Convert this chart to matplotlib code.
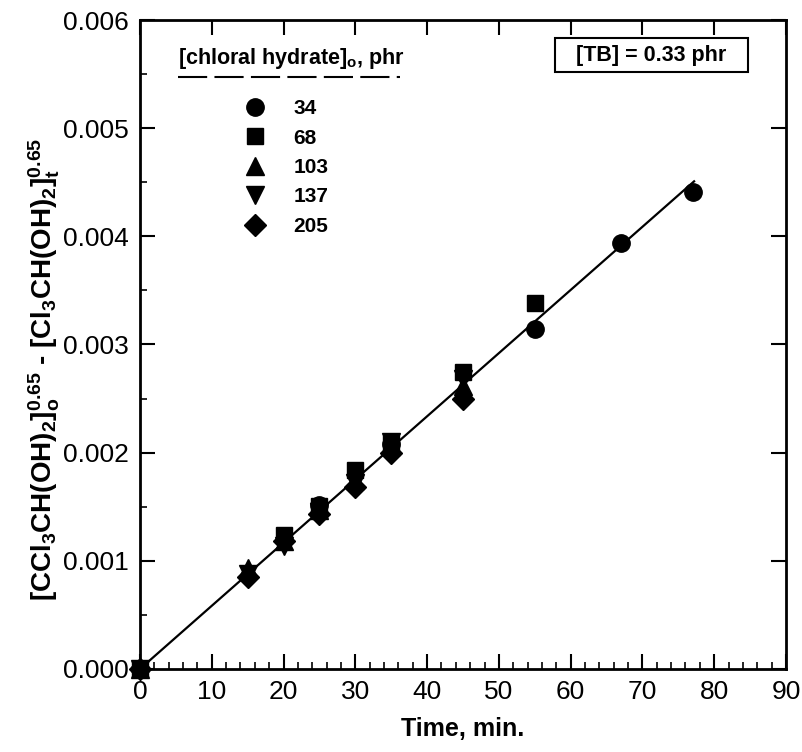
import matplotlib
matplotlib.use('Agg')
import matplotlib.pyplot as plt
from matplotlib.ticker import MultipleLocator, FormatStrFormatter
from matplotlib.patches import Rectangle

plt.rcParams['font.family'] = ['Liberation Sans', 'DejaVu Sans']
plt.rcParams['mathtext.default'] = 'regular'

# data: time (min) vs conversion function
t_34 = [0, 25, 35, 55, 67, 77]
y_34 = [0.0, 0.00152, 0.00208, 0.00314, 0.00394, 0.00441]

t_68 = [0, 20, 25, 30, 35, 45, 55]
y_68 = [0.0, 0.00124, 0.00151, 0.00184, 0.00209, 0.00275, 0.00338]

t_103 = [0, 15, 20, 25, 30, 35, 45]
y_103 = [0.0, 0.00093, 0.00118, 0.00147, 0.00175, 0.00206, 0.00262]

t_137 = [0, 15, 20, 25, 30, 35, 45]
y_137 = [0.0, 0.00088, 0.00114, 0.00145, 0.00172, 0.00210, 0.00268]

t_205 = [0, 15, 20, 25, 30, 35, 45]
y_205 = [0.0, 0.00085, 0.00118, 0.00143, 0.00168, 0.00200, 0.00250]

series_labels = ['34', '68', '103', '137', '205']
series_markers = ['o', 's', '^', 'v', 'D']

# linear fit through origin
fit_t = [0, 77.2]
fit_slope = 5.84e-5

fig = plt.figure(figsize=(8.03, 7.52), dpi=100)
ax = fig.add_axes([0.1743, 0.1104, 0.8045, 0.8630])

fit_y = [fit_slope * t for t in fit_t]
ax.plot(fit_t, fit_y, color='black', lw=1.6, zorder=2)

handles = []
all_t = [t_34, t_68, t_103, t_137, t_205]
all_y = [y_34, y_68, y_103, y_137, y_205]
for tt, yy, lab, mk in zip(all_t, all_y, series_labels, series_markers):
    ms = 12.5 if mk in ('o', '^', 'v') else 11
    h, = ax.plot(tt, yy, linestyle='none', marker=mk, color='black',
                 markersize=ms, label=lab, zorder=3, clip_on=False)
    handles.append(h)

ax.set_xlim(0, 90)
ax.set_ylim(0, 0.006)
ax.xaxis.set_major_locator(MultipleLocator(10))
ax.xaxis.set_minor_locator(MultipleLocator(2))
ax.yaxis.set_major_locator(MultipleLocator(0.001))
ax.yaxis.set_minor_locator(MultipleLocator(0.0005))
ax.yaxis.set_major_formatter(FormatStrFormatter('%.3f'))

ax.tick_params(which='major', direction='in', length=11, width=1.5,
               top=True, right=True, labelsize=19, pad=8)
ax.tick_params(which='minor', direction='in', length=5, width=1.2)
for sp in ax.spines.values():
    sp.set_linewidth(2)

ax.set_xlabel('Time, min.', fontsize=18, fontweight='bold', labelpad=9)
ax.set_ylabel(r'[CCl$_3$CH(OH)$_2$]$_o^{0.65}$ - [Cl$_3$CH(OH)$_2$]$_t^{0.65}$',
              fontsize=20, fontweight='bold')
ax.yaxis.set_label_coords(-0.121, 0.462)

# legend
leg = ax.legend(handles=handles, loc='upper left', bbox_to_anchor=(0.162, 0.878),
                frameon=False, borderpad=0, borderaxespad=0, handlelength=1.0,
                handletextpad=1.33, labelspacing=0.5,
                prop={'weight': 'bold', 'size': 15})
ax.text(0.059, 0.941, '[chloral hydrate]$_o$, phr', transform=ax.transAxes,
        fontsize=15.5, fontweight='bold', ha='left', va='center')
ax.plot([0.059, 0.402], [0.912, 0.912], transform=ax.transAxes, color='black',
        lw=1.5, dashes=(14, 3.5))

ax.add_patch(Rectangle((0.642, 0.920), 0.299, 0.052, transform=ax.transAxes,
                       fc='white', ec='black', lw=1.5, zorder=4))
ax.text(0.7915, 0.946, '[TB] = 0.33 phr', transform=ax.transAxes, fontsize=15.5,
        fontweight='bold', ha='center', va='center', zorder=5)

fig.savefig('out.png', dpi=100)
